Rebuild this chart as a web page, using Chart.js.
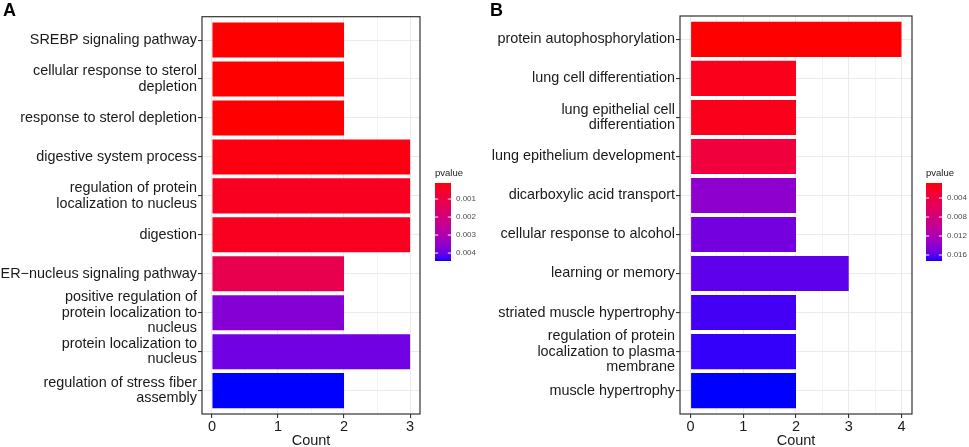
<!DOCTYPE html>
<html><head><meta charset="utf-8">
<script src="https://cdn.jsdelivr.net/npm/chart.js@4.4.1/dist/chart.umd.min.js"></script>
<style>
html,body{margin:0;padding:0;background:#fff;}
#wrap{position:relative;width:969px;height:447px;overflow:hidden;background:#fff;}
canvas{position:absolute;top:0;}
.tag{position:absolute;font:bold 18px "Liberation Sans",Arial,sans-serif;color:#000;line-height:normal;}
</style></head><body>
<div id="wrap">
<canvas id="cA" width="480" height="447" style="left:0;width:480px;height:447px"></canvas>
<canvas id="cB" width="489" height="447" style="left:480px;width:489px;height:447px"></canvas>
<div class="tag" style="left:3px;top:0px">A</div>
<div class="tag" style="left:490px;top:0px">B</div>
</div>
<script>
// ---------- Panel A data ----------
const termsA = [
  ["SREBP signaling pathway"],
  ["cellular response to sterol", "depletion"],
  ["response to sterol depletion"],
  ["digestive system process"],
  ["regulation of protein", "localization to nucleus"],
  ["digestion"],
  ["ER\u2212nucleus signaling pathway"],
  ["positive regulation of", "protein localization to", "nucleus"],
  ["protein localization to", "nucleus"],
  ["regulation of stress fiber", "assembly"]
];
const countsA = [2, 2, 2, 3, 3, 3, 2, 2, 3, 2];
const pvaluesA = [0.00011, 0.00011, 0.00012, 0.00024, 0.00041, 0.00041, 0.00119, 0.00370, 0.00392, 0.00444];
const xTicksA = [0, 1, 2, 3];
const legendBreaksA = [0.001, 0.002, 0.003, 0.004];

// ---------- Panel B data ----------
const termsB = [
  ["protein autophosphorylation"],
  ["lung cell differentiation"],
  ["lung epithelial cell", "differentiation"],
  ["lung epithelium development"],
  ["dicarboxylic acid transport"],
  ["cellular response to alcohol"],
  ["learning or memory"],
  ["striated muscle hypertrophy"],
  ["regulation of protein", "localization to plasma", "membrane"],
  ["muscle hypertrophy"]
];
const countsB = [4, 2, 2, 2, 2, 2, 3, 2, 2, 2];
const pvaluesB = [0.00084, 0.00166, 0.00166, 0.00363, 0.01398, 0.01513, 0.01595, 0.01660, 0.01685, 0.01726];
const xTicksB = [0, 1, 2, 3, 4];
const legendBreaksB = [0.004, 0.008, 0.012, 0.016];

// ---------- colour helpers (Lab interpolation red -> blue) ----------
function s2l(c){c/=255;return c<=0.04045?c/12.92:Math.pow((c+0.055)/1.055,2.4);}
function rgbToLab(rgb){
  const R=s2l(rgb[0]),G=s2l(rgb[1]),B=s2l(rgb[2]);
  const X=(0.4124*R+0.3576*G+0.1805*B)/0.95047, Y=(0.2126*R+0.7152*G+0.0722*B), Z=(0.0193*R+0.1192*G+0.9505*B)/1.08883;
  const f=t=>t>0.008856?Math.cbrt(t):7.787*t+16/116;
  const fx=f(X),fy=f(Y),fz=f(Z);
  return [116*fy-16,500*(fx-fy),200*(fy-fz)];
}
function labToRgb(lab){
  const fy=(lab[0]+16)/116, fx=fy+lab[1]/500, fz=fy-lab[2]/200;
  const fi=t=>t*t*t>0.008856?t*t*t:(t-16/116)/7.787;
  const X=0.95047*fi(fx),Y=fi(fy),Z=1.08883*fi(fz);
  const R=3.2406*X-1.5372*Y-0.4986*Z, G=-0.9689*X+1.8758*Y+0.0415*Z, B=0.0557*X-0.2040*Y+1.0570*Z;
  const g=c=>{c=Math.max(0,Math.min(1,c));return Math.round(255*(c<=0.0031308?12.92*c:1.055*Math.pow(c,1/2.4)-0.055));};
  return [g(R),g(G),g(B)];
}
const LOW = rgbToLab([255,0,0]), HIGH = rgbToLab([0,0,255]);
function grad(t){
  t=Math.max(0,Math.min(1,t));
  const c=labToRgb([0,1,2].map(i=>LOW[i]+(HIGH[i]-LOW[i])*t));
  return 'rgb('+c[0]+','+c[1]+','+c[2]+')';
}

const FONT = '"Liberation Sans", Arial, sans-serif';

const panelPlugin = {
  id: 'panel',
  afterDraw(chart, args, o) {
    const ctx = chart.ctx, ca = chart.chartArea;
    ctx.save();
    ctx.strokeStyle = '#333333';
    ctx.lineWidth = 1.2;
    ctx.strokeRect(ca.left, ca.top, ca.right - ca.left, ca.bottom - ca.top);
    // colour bar legend
    const {x, y, w, h, min, max, breaks} = o;
    const g = ctx.createLinearGradient(0, y, 0, y + h);
    const N = 30;
    for (let i = 0; i <= N; i++) g.addColorStop(i / N, grad(i / N));
    ctx.fillStyle = g;
    ctx.fillRect(x, y, w, h);
    ctx.strokeStyle = '#ffffff';
    ctx.lineWidth = 1;
    ctx.font = '8px ' + FONT;
    ctx.textBaseline = 'middle';
    ctx.textAlign = 'left';
    ctx.fillStyle = '#4d4d4d';
    breaks.forEach(b => {
      const yy = y + (b - min) / (max - min) * h;
      ctx.beginPath();
      ctx.moveTo(x, yy); ctx.lineTo(x + w / 5, yy);
      ctx.moveTo(x + w - w / 5, yy); ctx.lineTo(x + w, yy);
      ctx.stroke();
      ctx.fillText(b.toFixed(3), x + w + 5, yy);
    });
    ctx.font = '9.5px ' + FONT;
    ctx.fillStyle = '#1a1a1a';
    ctx.textBaseline = 'alphabetic';
    ctx.fillText('pvalue', x, y - 7);
    ctx.restore();
  }
};

function makeChart(id, terms, counts, pvalues, xTicks, breaks, yWidth, padRight, cbX) {
  const pmin = Math.min(...pvalues), pmax = Math.max(...pvalues);
  const colors = pvalues.map(p => grad((p - pmin) / (pmax - pmin)));
  const cmax = Math.max(...counts);
  const minor = [];
  for (let i = 0; i < xTicks.length - 1; i++) minor.push((xTicks[i] + xTicks[i + 1]) / 2);
  const allX = xTicks.concat(minor).sort((a, b) => a - b);
  const isMajor = v => xTicks.indexOf(v) >= 0;
  const n = terms.length;
  return new Chart(document.getElementById(id), {
    type: 'bar',
    data: {
      datasets: [{
        data: counts.map((c, i) => ({x: c, y: i + 1})),
        backgroundColor: colors,
        borderWidth: 0,
        barPercentage: 0.9,
        categoryPercentage: 1.0
      }]
    },
    options: {
      indexAxis: 'y',
      responsive: false,
      animation: false,
      events: [],
      layout: {padding: {left: 0, right: padRight, top: 16, bottom: 0}},
      plugins: {
        legend: {display: false},
        tooltip: {enabled: false},
        panel: {x: cbX, y: 183, w: 16, h: 78, min: pmin, max: pmax, breaks: breaks}
      },
      scales: {
        y: {
          type: 'linear',
          reverse: true,
          offset: false,
          min: 0.4,
          max: n + 0.6,
          afterBuildTicks: s => { s.ticks = terms.map((t, i) => ({value: i + 1})); },
          afterFit: s => { s.width = yWidth; },
          border: {display: false},
          grid: {offset: false, color: '#EBEBEB', lineWidth: 1.1, tickColor: '#333333', tickLength: 4, tickWidth: 1.1},
          ticks: {
            autoSkip: false,
            padding: 1,
            color: '#1a1a1a',
            font: {family: FONT, size: 14.4, lineHeight: 1.09},
            callback: v => terms[Math.round(v) - 1]
          }
        },
        x: {
          type: 'linear',
          offset: false,
          min: -0.05 * cmax,
          max: 1.05 * cmax,
          afterBuildTicks: s => { s.ticks = allX.map(v => ({value: v})); },
          afterFit: s => { s.height = 33; },
          border: {display: false},
          grid: {
            offset: false,
            color: '#EBEBEB',
            lineWidth: c => isMajor(c.tick.value) ? 1.1 : 0.55,
            tickColor: c => isMajor(c.tick.value) ? '#333333' : 'rgba(0,0,0,0)',
            tickLength: 4,
            tickWidth: 1.1
          },
          ticks: {
            autoSkip: false,
            maxRotation: 0,
            padding: 0,
            color: '#1a1a1a',
            font: {family: FONT, size: 14.5},
            callback: v => isMajor(v) ? String(v) : ''
          },
          title: {
            display: true,
            text: 'Count',
            color: '#1a1a1a',
            font: {family: FONT, size: 14.5, lineHeight: 1},
            padding: {top: 0, bottom: -1}
          }
        }
      }
    },
    plugins: [panelPlugin]
  });
}

makeChart('cA', termsA, countsA, pvaluesA, xTicksA, legendBreaksA, 202, 60, 435);
makeChart('cB', termsB, countsB, pvaluesB, xTicksB, legendBreaksB, 200, 57, 446);
</script>
</body></html>
